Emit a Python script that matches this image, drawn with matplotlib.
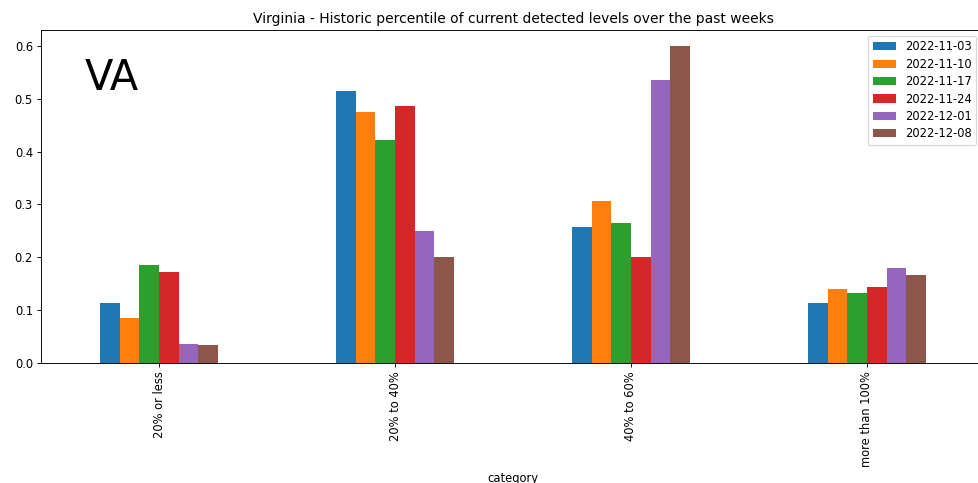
import matplotlib
matplotlib.use("Agg")
import matplotlib.pyplot as plt
import numpy as np
import pandas as pd

categories = ["20% or less", "20% to 40%", "40% to 60%", "more than 100%"]
weeks = ["2022-11-03", "2022-11-10", "2022-11-17", "2022-11-24", "2022-12-01", "2022-12-08"]

wk_1103 = [0.114, 0.515, 0.258, 0.114]
wk_1110 = [0.085, 0.474, 0.306, 0.140]
wk_1117 = [0.185, 0.422, 0.264, 0.133]
wk_1124 = [0.172, 0.486, 0.200, 0.144]
wk_1201 = [0.036, 0.250, 0.536, 0.180]
wk_1208 = [0.034, 0.200, 0.600, 0.167]

df = pd.DataFrame(
    dict(zip(weeks, [wk_1103, wk_1110, wk_1117, wk_1124, wk_1201, wk_1208])),
    index=pd.Index(categories, name="category"),
)

dpi = 83
fig = plt.figure(figsize=(979 / dpi, 483 / dpi), dpi=dpi)
ax = fig.add_axes([0.0419, 0.2484, 0.9642, 0.6895])
df.plot.bar(ax=ax, rot=90)

ax.set_title("Virginia - Historic percentile of current detected levels over the past weeks")
ax.text(0.046, 0.82, "VA", transform=ax.transAxes, fontsize=36, va="baseline", ha="left")
ax.legend(loc="upper right", labelspacing=0.38, bbox_to_anchor=(0.997, 1.0))

fig.savefig("out.png", dpi=dpi)
